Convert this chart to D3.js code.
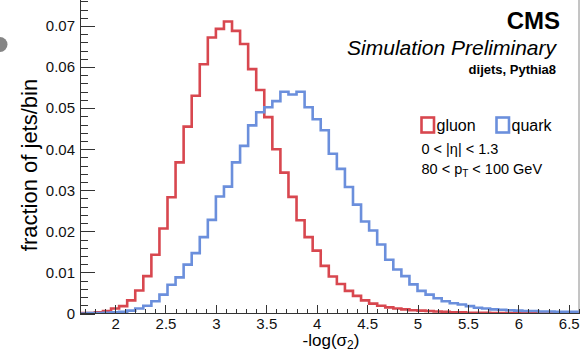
<!DOCTYPE html>
<html>
<head>
<meta charset="utf-8">
<script src="https://cdn.jsdelivr.net/npm/d3@7"></script>
<style>
  body { margin: 0; background: #fff; }
  svg { display: block; font-family: "Liberation Sans", Arial, Helvetica, sans-serif; }
  .axis path, .axis line { shape-rendering: crispEdges; }
</style>
</head>
<body>
<div id="chart"></div>
<script>

// histogram bins: lower edge of first bin and bin width
const binStart = 1.64, binWidth = 0.08;

// fraction of jets per bin
const gluon = [
  0.0001, 0.0001, 0.0003, 0.0006, 0.0012, 0.0018, 0.0032, 0.0056, 0.0091, 0.0143,
  0.0207, 0.0283, 0.0368, 0.0455, 0.0530, 0.0607, 0.0672, 0.0693, 0.0711, 0.0688,
  0.0656, 0.0595, 0.0544, 0.0478, 0.0400, 0.0343, 0.0284, 0.0227, 0.0186, 0.0153,
  0.0116, 0.0090, 0.0072, 0.0055, 0.0043, 0.0032, 0.0024, 0.0019, 0.0015, 0.0012,
  0.0010, 0.0008, 0.0007, 0.0006, 0.0005, 0.0004, 0.0003, 0.0003, 0.0002, 0.0002,
  0.0002, 0.0001, 0.0001, 0.0001, 0.0001, 0.0001, 0.0001, 0.0000, 0.0000, 0.0000,
  0.0000, 0.0000
];
const quark = [
  0.0000, 0.0001, 0.0001, 0.0002, 0.0003, 0.0004, 0.0007, 0.0012, 0.0019, 0.0030,
  0.0046, 0.0070, 0.0088, 0.0119, 0.0147, 0.0186, 0.0228, 0.0285, 0.0309, 0.0368,
  0.0408, 0.0458, 0.0490, 0.0502, 0.0517, 0.0540, 0.0533, 0.0540, 0.0502, 0.0473,
  0.0446, 0.0389, 0.0352, 0.0308, 0.0265, 0.0224, 0.0202, 0.0168, 0.0131, 0.0107,
  0.0091, 0.0071, 0.0055, 0.0046, 0.0037, 0.0030, 0.0025, 0.0022, 0.0018, 0.0014,
  0.0012, 0.0010, 0.0009, 0.0008, 0.0007, 0.0006, 0.0006, 0.0005, 0.0005, 0.0004,
  0.0004, 0.0004
];

const yTicks = [0, 0.01, 0.02, 0.03, 0.04, 0.05, 0.06, 0.07];
const xTicks = [2, 2.5, 3, 3.5, 4, 4.5, 5, 5.5, 6, 6.5];

const W = 582, H = 353;
const left = 80, right = 579, bottom = 313.5;

const svg = d3.select("#chart").append("svg")
    .attr("width", W)
    .attr("height", H);

const x = d3.scaleLinear().domain([1.652, 6.602]).range([left, right]);
const y = d3.scaleLinear().domain([0, 0.08]).range([bottom, -15.1]);

// little grey dot on the left border
svg.append("circle")
  .attr("cx", 0).attr("cy", 44.5).attr("r", 7.5)
  .style("fill", "#858585");

svg.append("clipPath").attr("id", "frame")
  .append("rect").attr("x", left).attr("y", -20).attr("width", right - left).attr("height", bottom + 20);

// right border of the frame
svg.append("line")
  .attr("x1", right).attr("x2", right).attr("y1", -20).attr("y2", bottom)
  .style("stroke", "#8a8a8a").style("stroke-width", 1);

// histograms as step lines
const steps = vals => {
  const pts = vals.map((v, i) => [binStart + i * binWidth, v]);
  pts.push([binStart + vals.length * binWidth, vals[vals.length - 1]]);
  return pts;
};
const line = d3.line()
  .x(d => x(d[0]))
  .y(d => y(d[1]))
  .curve(d3.curveStepAfter);

const hists = [
  {name: "gluon", vals: gluon, color: "#d8474f"},
  {name: "quark", vals: quark, color: "#6b8fdc"}
];

svg.append("g").attr("clip-path", "url(#frame)")
  .selectAll("path")
  .data(hists)
  .enter().append("path")
  .attr("d", d => line(steps(d.vals)))
  .style("fill", "none")
  .style("stroke", d => d.color)
  .style("stroke-width", 2.6)
  .style("stroke-linejoin", "miter");

// y axis, ticks pointing into the frame
const yAxis = svg.append("g").attr("class", "axis")
  .attr("transform", "translate(" + left + ",0)");
yAxis.call(d3.axisLeft(y).tickValues(y.ticks(40).filter(t => t <= 0.077)).tickSize(-7.5).tickFormat(""));
yAxis.call(g => g.append("g").call(d3.axisLeft(y).tickValues(yTicks).tickSize(-15).tickPadding(5)
    .tickFormat(d => d === 0 ? "0" : d3.format(".2f")(d))));
yAxis.selectAll("path").remove();
yAxis.append("line").attr("y1", -20).attr("y2", bottom).style("stroke", "#666");
yAxis.selectAll("line").style("stroke", "#333");
yAxis.selectAll("text").style("font-size", "15px").style("fill", "#111")
  .style("font-family", "'Liberation Sans', Arial, sans-serif");

// x axis, ticks pointing up
const xAxis = svg.append("g").attr("class", "axis")
  .attr("transform", "translate(0," + bottom + ")");
xAxis.call(d3.axisBottom(x).tickValues(x.ticks(50)).tickSize(-4.5).tickFormat(""));
xAxis.call(g => g.append("g").call(d3.axisBottom(x).tickValues(xTicks).tickSize(-9).tickPadding(4.5)
    .tickFormat(d3.format("~g"))));
xAxis.selectAll("path").remove();
xAxis.append("line").attr("x1", left).attr("x2", right).style("stroke", "#333");
xAxis.selectAll("line").style("stroke", "#333");
xAxis.selectAll("text").style("font-size", "15px").style("fill", "#111")
  .style("font-family", "'Liberation Sans', Arial, sans-serif");

// axis titles
svg.append("text")
  .attr("transform", "translate(37,165) rotate(-90)")
  .attr("text-anchor", "middle")
  .style("font-size", "22px")
  .text("fraction of jets/bin");

const xt = svg.append("text")
  .attr("x", 331).attr("y", 345.5)
  .attr("text-anchor", "middle")
  .style("font-size", "17px");
xt.append("tspan").text("-log(σ");
xt.append("tspan").attr("dy", 3.5).style("font-size", "12px").text("2");
xt.append("tspan").attr("dy", -3.5).text(")");

// labels
svg.append("text").attr("x", 560).attr("y", 28.5).attr("text-anchor", "end")
  .style("font-size", "24px").style("font-weight", "bold").text("CMS");
svg.append("text").attr("x", 556).attr("y", 55).attr("text-anchor", "end")
  .style("font-size", "21px").style("font-style", "italic").text("Simulation Preliminary");
svg.append("text").attr("x", 556).attr("y", 74).attr("text-anchor", "end")
  .style("font-size", "13px").style("font-weight", "bold").text("dijets, Pythia8");

// legend
const legend = svg.append("g").selectAll("g")
  .data(hists)
  .enter().append("g")
  .attr("transform", (d, i) => "translate(" + (421.5 + i * 75) + ",117.5)");
legend.append("rect")
  .attr("width", 12.5).attr("height", 15)
  .style("fill", "none")
  .style("stroke", d => d.color)
  .style("stroke-width", 2.6);
legend.append("text")
  .attr("x", 15).attr("y", 13)
  .style("font-size", "16px")
  .text(d => d.name);

svg.append("text").attr("x", 421.5).attr("y", 153.5)
  .style("font-size", "14.5px").text("0 < |η| < 1.3");
const pt = svg.append("text").attr("x", 421.5).attr("y", 173.5)
  .style("font-size", "14.5px");
pt.append("tspan").text("80 < p");
pt.append("tspan").attr("dy", 3.5).style("font-size", "10px").text("T");
pt.append("tspan").attr("dy", -3.5).text(" < 100 GeV");

</script>
</body>
</html>
